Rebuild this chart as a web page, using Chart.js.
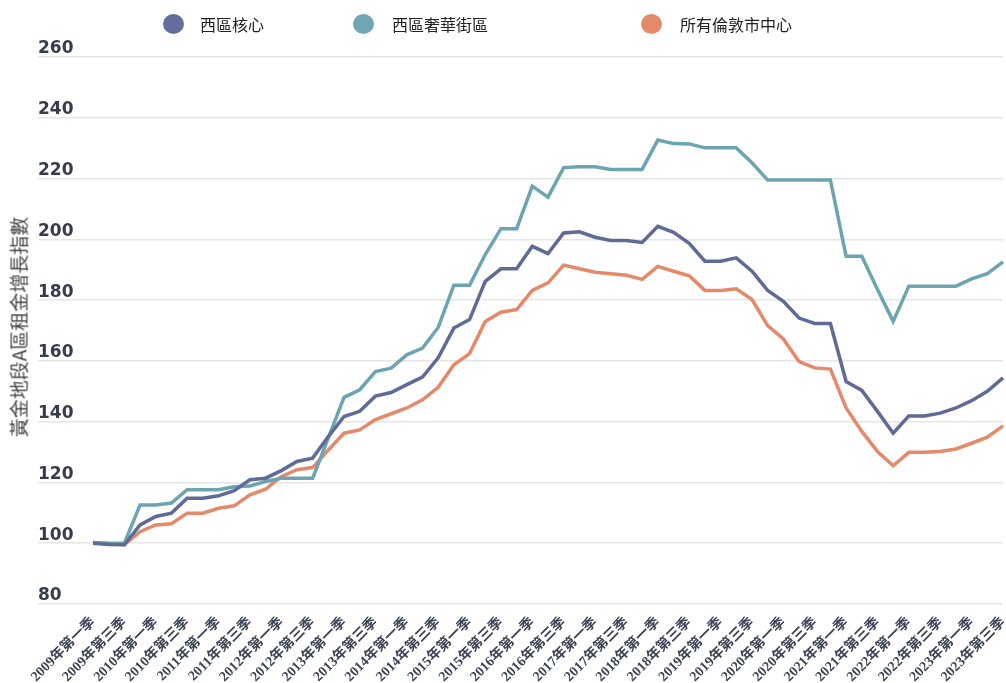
<!DOCTYPE html>
<html>
<head>
<meta charset="utf-8">
<script src="https://cdn.jsdelivr.net/npm/chart.js@4/dist/chart.umd.min.js"></script>
<style>
  body { margin: 0; background: #fff; }
  #wrap { position: relative; width: 1006px; height: 683px; }
  .lg { position: absolute; top: 14px; font: 16px "Noto Sans CJK TC", sans-serif; color: #222; line-height: 20px; }
  .dot { position: absolute; width: 21px; height: 20px; border-radius: 50%; top: 14px; }
  #ytitle { position: absolute; left: 18px; top: 327px; transform: translate(-50%, -50%) rotate(-90deg);
    white-space: nowrap; font: 19px "Noto Sans CJK TC", serif; color: #444; }
</style>
</head>
<body>
<div id="wrap">
  <canvas id="grafica" width="1006" height="683"></canvas>
  <div class="dot" style="left:163px;background:#636e9b"></div><div class="lg" style="left:200px">西區核心</div>
  <div class="dot" style="left:353px;background:#70a6b3"></div><div class="lg" style="left:392px">西區奢華街區</div>
  <div class="dot" style="left:641px;background:#e38b69"></div><div class="lg" style="left:680px">所有倫敦市中心</div>
  <div id="ytitle">黃金地段A區租金增長指數</div>
</div>
<script>
const labels = [
  '2009年第一季', '2009年第二季', '2009年第三季', '2009年第四季',
  '2010年第一季', '2010年第二季', '2010年第三季', '2010年第四季',
  '2011年第一季', '2011年第二季', '2011年第三季', '2011年第四季',
  '2012年第一季', '2012年第二季', '2012年第三季', '2012年第四季',
  '2013年第一季', '2013年第二季', '2013年第三季', '2013年第四季',
  '2014年第一季', '2014年第二季', '2014年第三季', '2014年第四季',
  '2015年第一季', '2015年第二季', '2015年第三季', '2015年第四季',
  '2016年第一季', '2016年第二季', '2016年第三季', '2016年第四季',
  '2017年第一季', '2017年第二季', '2017年第三季', '2017年第四季',
  '2018年第一季', '2018年第二季', '2018年第三季', '2018年第四季',
  '2019年第一季', '2019年第二季', '2019年第三季', '2019年第四季',
  '2020年第一季', '2020年第二季', '2020年第三季', '2020年第四季',
  '2021年第一季', '2021年第二季', '2021年第三季', '2021年第四季',
  '2022年第一季', '2022年第二季', '2022年第三季', '2022年第四季',
  '2023年第一季', '2023年第二季', '2023年第三季'
]

const seriesNames = ['西區核心', '西區奢華街區', '所有倫敦市中心']

const westCore = [
  100, 99.6, 99.5, 106, 108.8, 109.9, 114.8, 114.8, 115.6, 117.3,
  120.9, 121.4, 123.9, 126.9, 128, 135.1, 141.7, 143.4, 148.4, 149.6,
  152.2, 154.7, 161, 170.8, 173.6, 186.2, 190.3, 190.3, 197.7, 195.3,
  202.1, 202.5, 200.7, 199.6, 199.6, 199, 204.3, 202.3, 198.7, 192.8,
  192.8, 193.9, 189.5, 183.2, 179.6, 174.1, 172.3, 172.3, 153.2, 150.3,
  143.4, 136.2, 141.9, 141.9, 142.8, 144.5, 146.9, 150, 154.4
]

const westLuxury = [
  100.2, 100, 100, 112.6, 112.6, 113.2, 117.6, 117.6, 117.6, 118.6,
  118.8, 120.3, 121.4, 121.4, 121.4, 134.7, 148, 150.5, 156.5, 157.6,
  162, 164.2, 171, 184.9, 184.9, 195, 203.5, 203.5, 217.5, 213.9,
  223.6, 223.9, 223.9, 223, 223, 223, 232.7, 231.5, 231.4, 230.1,
  230.1, 230.1, 225.2, 219.5, 219.5, 219.5, 219.5, 219.5, 194.4, 194.4,
  183.5, 173, 184.6, 184.6, 184.6, 184.6, 187, 188.7, 192.6
]

const londonCentral = [
  100, 99.9, 99.5, 103.8, 106, 106.4, 109.9, 109.9, 111.5, 112.3,
  115.9, 117.8, 121.9, 124.2, 124.9, 130.7, 136.2, 137.3, 140.7, 142.6,
  144.5, 147.2, 151.3, 158.7, 162.4, 173, 176, 176.9, 183.2, 185.7,
  191.5, 190.3, 189.2, 188.7, 188.2, 186.8, 191.1, 189.5, 188, 183.2,
  183.2, 183.7, 180.2, 171.6, 167.2, 159.8, 157.7, 157.3, 144.5, 136.8,
  130.2, 125.5, 129.9, 129.9, 130.2, 131, 132.9, 134.9, 138.6
]

const yTicks = { min: 80, max: 260, step: 20 }

const graph = document.querySelector('#grafica')

function linea(label, data, color) {
  return {
    label: label,
    data: data,
    borderColor: color,
    backgroundColor: color,
    borderWidth: 3.5,
    pointRadius: 0,
    tension: 0,
    fill: false
  }
}

new Chart(graph, {
  type: 'line',
  data: {
    labels: labels,
    datasets: [
      linea(seriesNames[0], westCore, '#5f6a97'),
      linea(seriesNames[1], westLuxury, '#6ca4b1'),
      linea(seriesNames[2], londonCentral, '#e4896a')
    ]
  },
  options: {
    responsive: false,
    animation: false,
    layout: { padding: { left: 38, top: 57, right: 3, bottom: 0 } },
    plugins: { legend: { display: false }, tooltip: { enabled: false } },
    scales: {
      x: {
        grid: { display: false },
        border: { display: false },
        afterFit: function (scale) {
          scale.height = 79
          scale.paddingRight = 0
        },
        ticks: {
          autoSkip: false,
          maxRotation: 45,
          minRotation: 45,
          padding: 2,
          color: '#3d4354',
          font: { family: "'Liberation Serif', 'Noto Sans CJK TC'", size: 14, weight: 'bold' },
          callback: function (val, i) { return i % 2 === 0 ? labels[i] : '' }
        }
      },
      y: {
        min: yTicks.min,
        max: yTicks.max,
        border: { display: false },
        grid: { color: '#e6e6e6', lineWidth: 1.5, drawTicks: true, tickLength: 55 },
        afterFit: function (scale) { scale.width = 55 },
        ticks: {
          stepSize: yTicks.step,
          crossAlign: 'far',
          labelOffset: -8,
          color: '#363b4e',
          font: { family: "'DejaVu Sans'", size: 17, weight: 'bold' }
        }
      }
    }
  }
})
</script>
</body>
</html>
